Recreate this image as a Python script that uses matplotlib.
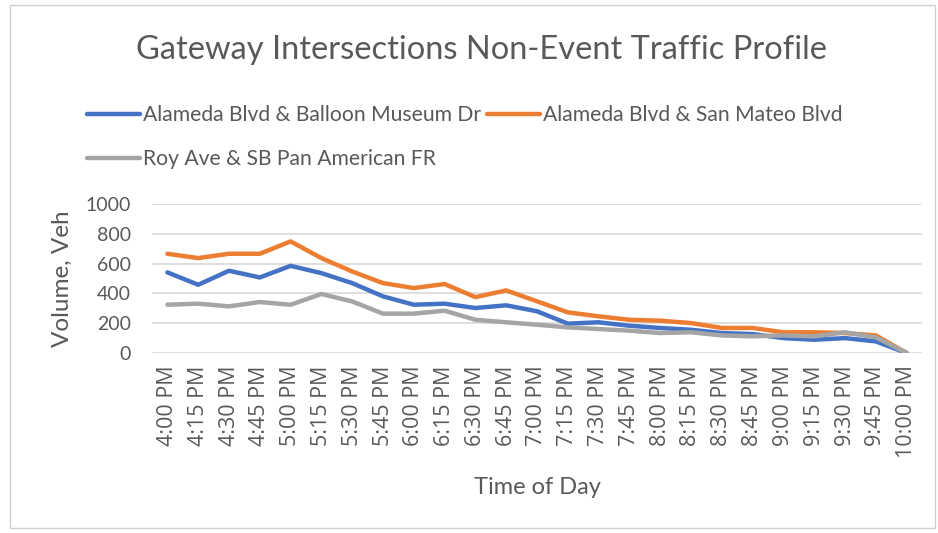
import matplotlib
matplotlib.use("Agg")
import matplotlib.pyplot as plt
from matplotlib.patches import Rectangle

times = ["4:00 PM", "4:15 PM", "4:30 PM", "4:45 PM", "5:00 PM", "5:15 PM", "5:30 PM",
         "5:45 PM", "6:00 PM", "6:15 PM", "6:30 PM", "6:45 PM", "7:00 PM", "7:15 PM",
         "7:30 PM", "7:45 PM", "8:00 PM", "8:15 PM", "8:30 PM", "8:45 PM", "9:00 PM",
         "9:15 PM", "9:30 PM", "9:45 PM", "10:00 PM"]

balloon = [541, 458, 552, 507, 585, 536, 469, 380, 324, 331, 302, 320, 280,
           197, 206, 183, 168, 156, 134, 127, 100, 89, 100, 78, 0]
san_mateo = [666, 637, 666, 666, 749, 637, 547, 469, 436, 463, 375, 420, 347,
             273, 246, 223, 217, 201, 168, 168, 139, 139, 134, 118, 0]
roy = [324, 331, 313, 342, 324, 396, 346, 264, 264, 284, 223, 206, 190,
       172, 161, 150, 134, 139, 118, 112, 118, 112, 139, 105, 0]

names = ["Alameda Blvd & Balloon Museum Dr", "Alameda Blvd & San Mateo Blvd",
         "Roy Ave & SB Pan American FR"]
colors = ["#4472C4", "#ED7D31", "#A5A5A5"]

txt = "#595959"
fig = plt.figure(figsize=(9.38, 5.33), dpi=100)
ax = fig.add_axes([152/938, 1-353/533, 770/938, 149/533])

x = range(len(times))
lines = []
for vals, nm, c in zip([balloon, san_mateo, roy], names, colors):
    l, = ax.plot(x, vals, color=c, lw=3.2, label=nm, solid_capstyle="round")
    lines.append(l)

ax.set_xlim(-0.5, len(times) - 0.5)
ax.set_ylim(0, 1000)
ax.set_yticks(range(0, 1001, 200))
ax.set_xticks(list(x))
ax.set_xticklabels(times, rotation=90, fontsize=15.5, color=txt, family="Open Sans")
for lab in ax.get_yticklabels():
    lab.set_family("Lato")
    lab.set_fontsize(14)
    lab.set_color(txt)
ax.tick_params(axis="x", length=0, pad=9)
ax.tick_params(axis="y", length=0, pad=15)
ax.grid(axis="y", color="#D9D9D9", lw=1.2)
ax.set_axisbelow(True)
for s in ax.spines.values():
    s.set_visible(False)

ax.set_ylabel("Volume, Veh", fontsize=17.5, color=txt, family="Lato")
ax.set_xlabel("Time of Day", fontsize=17, color=txt, family="Lato")
ax.yaxis.set_label_coords((62-152)/770, 0.5)
ax.xaxis.set_label_coords(0.5, (353-487)/149)
ax.xaxis.label.set_va("center")
ax.yaxis.label.set_va("center")

fig.text(481/938, 1-50/533, "Gateway Intersections Non-Event Traffic Profile",
         ha="center", va="center", fontsize=23.5, color=txt, family="Lato")

leg = fig.legend([lines[0], lines[2], lines[1]], [names[0], names[2], names[1]],
                 ncol=2, loc="upper left", bbox_to_anchor=(68/938, 1-86/533),
                 frameon=False, handlelength=2.5, handletextpad=0.15,
                 columnspacing=0.3, labelspacing=1.15, prop={"family": "Lato", "size": 15.2})
for t in leg.get_texts():
    t.set_color(txt)

fig.patches.append(Rectangle((10/938, 5/533), 925/938, 523/533, transform=fig.transFigure,
                             fill=False, ec="#D0D0D0", lw=1))

fig.savefig("out.png", dpi=100)
